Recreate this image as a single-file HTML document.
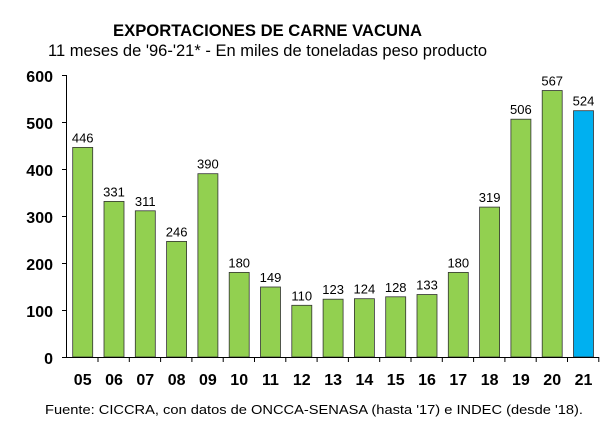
<!DOCTYPE html>
<html><head><meta charset="utf-8"><style>html,body{margin:0;padding:0;background:#fff}svg{display:block}</style></head>
<body>
<svg width="611" height="432" xmlns="http://www.w3.org/2000/svg" font-family="Liberation Sans, Arial, sans-serif">
<rect width="611" height="432" fill="#fff"/>
<text x="267.5" y="36" text-anchor="middle" font-size="17" font-weight="bold" textLength="309" lengthAdjust="spacingAndGlyphs">EXPORTACIONES DE CARNE VACUNA</text>
<text x="267.5" y="56" text-anchor="middle" font-size="17" textLength="439" lengthAdjust="spacingAndGlyphs">11 meses de '96-'21* - En miles de toneladas peso producto</text>
<g fill="#92D050" stroke="#333" stroke-width="0.8">
<rect x="72.7" y="147.4" width="20" height="209.6"/>
<rect x="104.0" y="201.4" width="20" height="155.6"/>
<rect x="135.3" y="210.8" width="20" height="146.2"/>
<rect x="166.6" y="241.4" width="20" height="115.6"/>
<rect x="197.9" y="173.7" width="20" height="183.3"/>
<rect x="229.2" y="272.4" width="20" height="84.6"/>
<rect x="260.5" y="287.0" width="20" height="70.0"/>
<rect x="291.8" y="305.3" width="20" height="51.7"/>
<rect x="323.1" y="299.2" width="20" height="57.8"/>
<rect x="354.4" y="298.7" width="20" height="58.3"/>
<rect x="385.7" y="296.8" width="20" height="60.2"/>
<rect x="417.0" y="294.5" width="20" height="62.5"/>
<rect x="448.3" y="272.4" width="20" height="84.6"/>
<rect x="479.6" y="207.1" width="20" height="149.9"/>
<rect x="510.9" y="119.2" width="20" height="237.8"/>
<rect x="542.2" y="90.5" width="20" height="266.5"/>
<rect x="573.5" y="110.7" width="20" height="246.3" fill="#00B0F0"/>
</g>
<g stroke="#000" stroke-width="1" fill="none">
<line x1="66.5" y1="75" x2="66.5" y2="357"/>
<line x1="66" y1="357.5" x2="599" y2="357.5"/>
<path d="M62 75.5H66M62 122.5H66M62 169.5H66M62 216.5H66M62 263.5H66M62 310.5H66M62 357.5H66"/>
<path d="M98 357V362M129.3 357V362M160.6 357V362M191.9 357V362M223.2 357V362M254.5 357V362M285.8 357V362M317.1 357V362M348.4 357V362M379.7 357V362M411 357V362M442.3 357V362M473.6 357V362M504.9 357V362M536.2 357V362M567.5 357V362M598.8 357V362"/>
</g>
<g font-size="16" font-weight="bold" text-anchor="end">
<text x="53" y="82">600</text><text x="53" y="129">500</text><text x="53" y="176">400</text>
<text x="53" y="223">300</text><text x="53" y="270">200</text><text x="53" y="317">100</text><text x="53" y="364">0</text>
</g>
<g font-size="13" text-anchor="middle">
<text x="82.7" y="142.4">446</text>
<text x="114.0" y="196.4">331</text>
<text x="145.3" y="205.8">311</text>
<text x="176.6" y="236.4">246</text>
<text x="207.9" y="168.7">390</text>
<text x="239.2" y="267.4">180</text>
<text x="270.5" y="282.0">149</text>
<text x="301.8" y="300.3">110</text>
<text x="333.1" y="294.2">123</text>
<text x="364.4" y="293.7">124</text>
<text x="395.7" y="291.8">128</text>
<text x="427.0" y="289.5">133</text>
<text x="458.3" y="267.4">180</text>
<text x="489.6" y="202.1">319</text>
<text x="520.9" y="114.2">506</text>
<text x="552.2" y="85.5">567</text>
<text x="583.5" y="105.7">524</text>
</g>
<g font-size="16" font-weight="bold" text-anchor="middle">
<text x="82.7" y="385">05</text><text x="114.0" y="385">06</text><text x="145.3" y="385">07</text>
<text x="176.6" y="385">08</text><text x="207.9" y="385">09</text><text x="239.2" y="385">10</text>
<text x="270.5" y="385">11</text><text x="301.8" y="385">12</text><text x="333.1" y="385">13</text>
<text x="364.4" y="385">14</text><text x="395.7" y="385">15</text><text x="427.0" y="385">16</text>
<text x="458.3" y="385">17</text><text x="489.6" y="385">18</text><text x="520.9" y="385">19</text>
<text x="552.2" y="385">20</text><text x="583.5" y="385">21</text>
</g>
<text x="314" y="414" text-anchor="middle" font-size="12.5" textLength="538" lengthAdjust="spacingAndGlyphs">Fuente: CICCRA, con datos de ONCCA-SENASA (hasta '17) e INDEC (desde '18).</text>
</svg>
</body></html>
